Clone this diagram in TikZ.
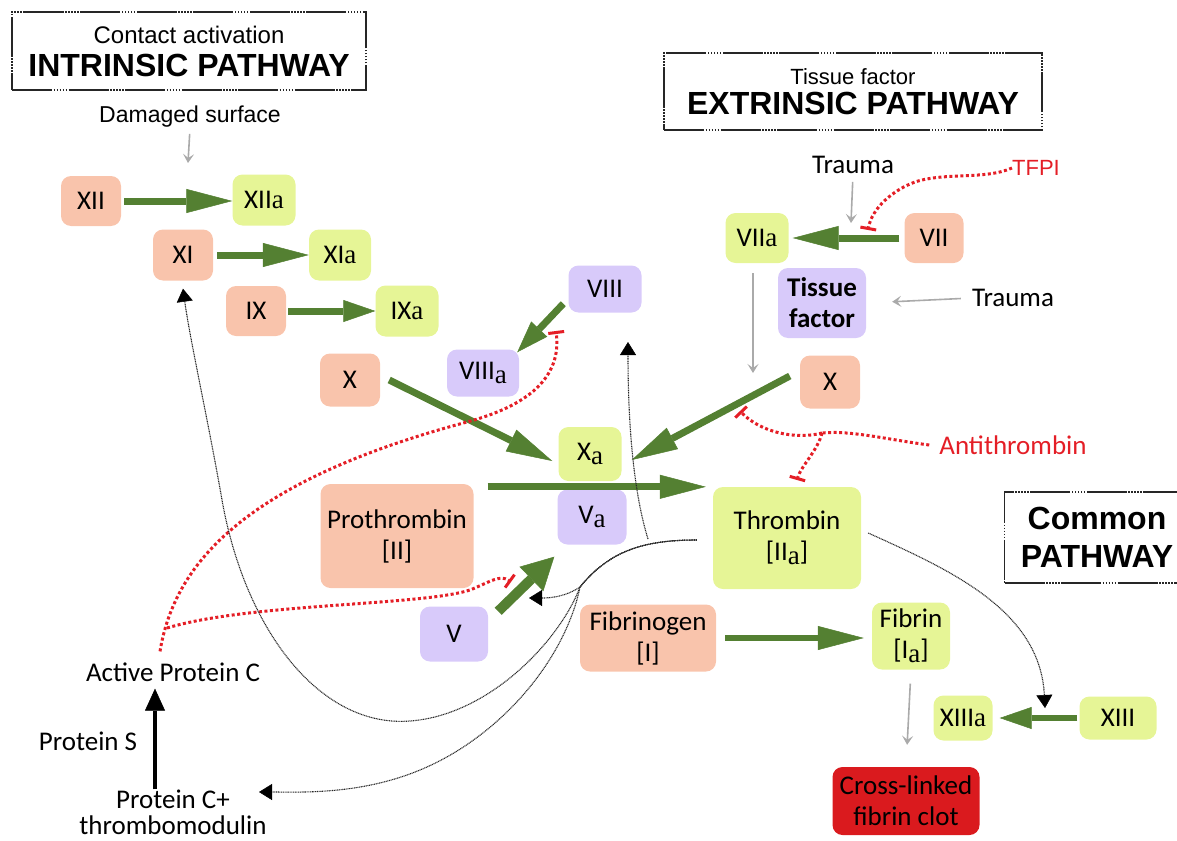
\documentclass[tikz,border=0pt]{standalone}
\usepackage{fontspec}
\setmainfont{Carlito}
\newfontfamily\arialfont{Liberation Sans}
\newfontfamily\serfont{Liberation Serif}
\usetikzlibrary{arrows.meta}

\definecolor{inact}{RGB}{249,196,172}
\definecolor{act}{RGB}{230,245,150}
\definecolor{cof}{RGB}{216,202,250}
\definecolor{clotred}{RGB}{218,26,30}
\definecolor{convgreen}{RGB}{84,128,50}
\definecolor{inhred}{RGB}{228,30,38}
\definecolor{triggray}{RGB}{170,170,170}

\newcommand\labfont{\fontsize{27}{31}\selectfont}
\newcommand\sublet{{\serfont a}}
\newcommand\lowlet{\raisebox{-0.3ex}{\serfont a}}

\tikzset{
	fac/.style={rounded corners=10pt, inner sep=0pt, align=center, font=\labfont},
	inactive/.style={fac, fill=inact},
	active/.style={fac, fill=act},
	cofac/.style={fac, fill=cof},
	txt/.style={font=\labfont, inner sep=0pt, align=center},
	pathbox/.style={draw=black!85, line width=1.3pt, dash pattern=on 40pt off 1.5pt on 1.5pt off 1.5pt on 1.5pt off 1.5pt on 1.5pt off 1.5pt on 1.5pt off 1.5pt on 1.5pt off 1.5pt, align=center, inner sep=0pt, font=\arialfont},
	conv/.style={draw=convgreen, line width=7pt, -{Triangle[length=46pt,width=24pt,line width=0.5pt]}},
	convs/.style={conv, -{Triangle[length=32pt,width=22pt,line width=0.5pt]}},
	trig/.style={draw=triggray, line width=1.6pt, -{Stealth[length=9pt,width=11pt,inset=4pt]}},
	inhl/.style={draw=inhred, line width=3pt, dash pattern=on 3pt off 2.5pt},
	inh/.style={inhl, -{Bar[width=16pt,line width=3pt]}},
	fb/.style={draw=black!85, line width=1.1pt, dash pattern=on 1pt off 0.7pt, -{Triangle[length=13pt,width=16pt,line width=0.5pt,fill=black,color=black]}}
}

\begin{document}
\begin{tikzpicture}[x=1pt,y=-1pt]
	\useasboundingbox (0,0) rectangle (1177,840);

	%PATHWAY TITLES
	\node[pathbox, minimum width=354pt, minimum height=78pt, font=\arialfont\fontsize{32}{33}\selectfont] (intr) at (189,51) {{\fontsize{24}{24}\selectfont Contact activation}\\{\bfseries INTRINSIC PATHWAY}};
	\node[pathbox, minimum width=378pt, minimum height=77pt, font=\arialfont\fontsize{32}{30}\selectfont] (extr) at (853,91.5) {{\fontsize{22}{22}\selectfont Tissue factor}\\{\bfseries EXTRINSIC PATHWAY}};
	\node[pathbox, minimum width=185pt, minimum height=91pt, font=\arialfont\bfseries\fontsize{32}{38}\selectfont] (comm) at (1097,537.5) {Common\\PATHWAY};

	%INTRINSIC FACTORS
	\node[inactive, minimum width=60pt, minimum height=50pt] (xii) at (91,201) {XII};
	\node[active, minimum width=63pt, minimum height=51pt] (xiia) at (264,200) {XII\sublet};
	\node[inactive, minimum width=60pt, minimum height=51pt] (xi) at (183,255) {XI};
	\node[active, minimum width=62pt, minimum height=51pt] (xia) at (340,255) {XI\sublet};
	\node[inactive, minimum width=60pt, minimum height=50pt] (ix) at (256,311) {IX};
	\node[active, minimum width=63pt, minimum height=51pt] (ixa) at (407,311) {IX\sublet};
	\node[inactive, minimum width=60pt, minimum height=53pt] (xl) at (350,380) {X};
	\node[cofac, minimum width=73pt, minimum height=47pt] (viii) at (605,289) {VIII};
	\node[cofac, minimum width=72pt, minimum height=47pt] (viiia) at (483,373) {VIII\lowlet};

	%EXTRINSIC FACTORS
	\node[active, minimum width=63pt, minimum height=50pt] (viia) at (757,238) {VII\sublet};
	\node[inactive, minimum width=59pt, minimum height=50pt] (vii) at (934,238) {VII};
	\node[cofac, minimum width=88pt, minimum height=70pt, font=\labfont\bfseries] (tf) at (822,303) {Tissue\\factor};
	\node[inactive, minimum width=60pt, minimum height=53pt] (xr) at (830,382) {X};

	%COMMON FACTORS
	\node[active, minimum width=63pt, minimum height=54pt] (xa) at (590,454) {X\lowlet};
	\node[cofac, minimum width=69pt, minimum height=55pt] (va) at (592,517) {V\lowlet};
	\node[inactive, minimum width=153pt, minimum height=104pt] (pro) at (397,536) {Prothrombin\\{}[II]};
	\node[cofac, minimum width=68pt, minimum height=55pt] (v) at (454,634) {V};
	\node[active, minimum width=148pt, minimum height=102pt] (thr) at (787,538) {Thrombin\\{}[II\lowlet]};
	\node[inactive, minimum width=136pt, minimum height=67pt] (fbg) at (648,638) {Fibrinogen\\{}[I]};
	\node[active, minimum width=78pt, minimum height=67pt] (fib) at (911,636) {Fibrin\\{}[I\lowlet]};
	\node[active, minimum width=59pt, minimum height=45pt] (xiiia) at (963,718) {XIII\sublet};
	\node[active, minimum width=77pt, minimum height=43pt] (xiii) at (1118,718) {XIII};
	\node[fac, fill=clotred, minimum width=147pt, minimum height=68pt] (clot) at (906,801) {Cross-linked\\fibrin clot};

	%FREE TEXTS
	\node[inner sep=0pt, font=\arialfont\fontsize{23}{23}\selectfont] (dmg) at (190,117) {Damaged surface};
	\node[txt] (trt) at (853,165) {Trauma};
	\node[inner sep=0pt, text=inhred, font=\arialfont\fontsize{22}{22}\selectfont] (tfpi) at (1036,168) {TFPI};
	\node[txt] (trr) at (1013,298) {Trauma};
	\node[txt, text=inhred] (at) at (1013,445) {Antithrombin};
	\node[txt] (apc) at (173,672) {Active Protein C};
	\node[txt] (ps) at (88,741) {Protein S};
	\node[txt, font=\fontsize{27}{26}\selectfont] (pc) at (173,812) {Protein C+\\thrombomodulin};

	%FREE ENDS
	\coordinate (dmgend) at (188,163);
	\coordinate (trtend) at (851,223);
	\coordinate (viiaend) at (753,373);
	\coordinate (tfpibar) at (868,230);
	\coordinate (atj) at (822,433);
	\coordinate (atbar1) at (740,411);
	\coordinate (atbar2) at (797,480);
	\coordinate (apcn) at ([xshift=-13pt,yshift=11pt]apc.north);
	\coordinate (apcv) at (167,628);
	\coordinate (viiibar) at (556,331);
	\coordinate (vbar) at (511,582);
	\coordinate (thw) at ([xshift=-16pt,yshift=-2pt]thr.west);
	\coordinate (thsplit) at (580,587);
	\coordinate (thd) at (648,539);
	\coordinate (vtip) at (529,598);
	\coordinate (xitip) at ([yshift=-8pt]xi.south);
	\coordinate (pctip) at (259,792);
	\coordinate (viiitip) at (628,342);
	\coordinate (xiiitip) at (1045,708);

	%TRIGGERS
	\draw[trig, shorten <=6pt] (dmg.south) -- (dmgend);
	\draw[trig, shorten <=8pt] (trt.south) -- (trtend);
	\draw[trig, shorten <=11pt, shorten >=26pt] (trr.west) -- (tf.east);
	\draw[trig, shorten <=10pt] ([xshift=-4pt]viia.south) -- (viiaend);
	\draw[trig, shorten <=14pt, shorten >=22pt] (fib.south) -- (clot.north);

	%CONVERSIONS
	\draw[conv, shorten <=3pt] (xii.east) -- (xii.east -| xiia.west);
	\draw[conv, shorten <=4pt] (xi.east) -- (xi.east -| xia.west);
	\draw[convs, shorten <=2pt] (ix.east) -- (ix.east -| ixa.west);
	\draw[convs] ([xshift=-5pt,yshift=9pt]viii.south west) -- ([xshift=-2pt,yshift=-3pt]viiia.north east);
	\draw[conv] ([xshift=9pt]xl.east) -- ([xshift=-6pt,yshift=-7pt]xa.west);
	\draw[conv] ([xshift=-10pt,yshift=6pt]xr.west) -- ([xshift=10pt,yshift=-6pt]xa.east);
	\draw[conv, shorten <=5pt, shorten >=4pt] (vii.west) -- (vii.west -| viia.east);
	\draw[conv] ([xshift=14pt,yshift=-3pt]pro.north east) -- ([xshift=-7pt]thr.north west);
	\draw[conv, line width=10pt, -{Triangle[length=32pt,width=34pt,line width=0.5pt]}] ([xshift=10pt,yshift=-5pt]v.north east) -- ([xshift=-3pt,yshift=-12pt]va.south west);
	\draw[conv, line width=6pt, shorten <=9pt, shorten >=8pt] (fbg.east) -- (fbg.east -| fib.west);
	\draw[convs, line width=6pt, shorten <=2pt, shorten >=7pt] (xiii.west) -- (xiii.west -| xiiia.east);
	\draw[line width=4.5pt, -{Triangle[length=22pt,width=20pt,line width=0.5pt]}, shorten >=7pt] ([xshift=-18pt]pc.north) -- ([xshift=-18pt]apc.south);

	%INHIBITIONS
	\draw[inh] (tfpi.west) .. controls (985,180) and (945,172) .. (915,182) .. controls (893,190) and (872,208) .. (tfpibar);
	\draw[inhl] ([xshift=-10pt]at.west) .. controls (890,440) and (850,430) .. (atj);
	\draw[inh] (atj) .. controls (795,440) and (760,432) .. (atbar1);
	\draw[inh] (atj) .. controls (818,450) and (801,466) .. (atbar2);
	\draw[inh] (apcn) .. controls (175,560) and (250,480) .. (467,422) .. controls (527,406) and (562,378) .. (viiibar);
	\draw[inh] (apcv) .. controls (250,603) and (420,606) .. (470,590) .. controls (490,582) and (500,574) .. (vbar);

	%THROMBIN FEEDBACK
	\draw[fb] (thw) .. controls (645,540) and (610,550) .. (thsplit) .. controls (565,597) and (550,598) .. (vtip);
	\draw[fb] (thw) .. controls (645,540) and (610,550) .. (thsplit) .. controls (560,640) and (490,715) .. (410,721) .. controls (320,728) and (245,630) .. (222,500) .. controls (208,420) and (190,340) .. (xitip);
	\draw[fb] (thw) .. controls (645,540) and (610,550) .. (thsplit) .. controls (565,660) and (500,737) .. (420,770) .. controls (360,795) and (300,792) .. (pctip);
	\draw[fb] (thd) .. controls (636,500) and (628,440) .. (viiitip);
	\draw[fb] ([xshift=7pt,yshift=5pt]thr.east) .. controls (950,570) and (1040,610) .. (xiiitip);
\end{tikzpicture}
\end{document}
